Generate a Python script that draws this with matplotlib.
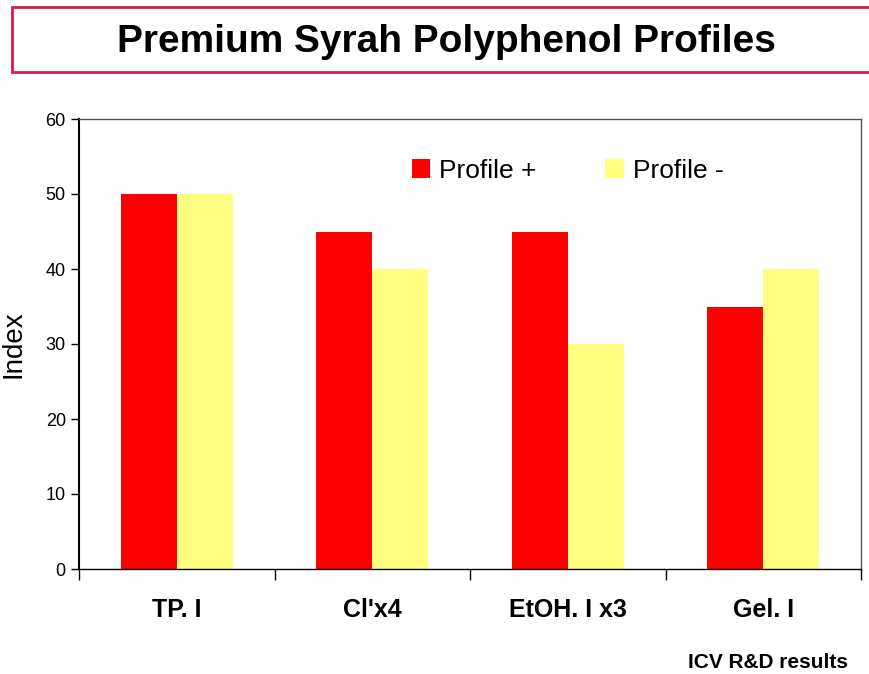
import matplotlib.pyplot as plt
import matplotlib.patches as mpatches
import numpy as np

plt.rcParams['font.family'] = ['Liberation Sans', 'DejaVu Sans']

# Data
categories = ["TP. I", "Cl'x4", "EtOH. I x3", "Gel. I"]
profile_plus = [50, 45, 45, 35]
profile_minus = [50, 40, 30, 40]

fig = plt.figure(figsize=(8.7, 6.74), dpi=100)
ax = fig.add_axes([79 / 870, 1 - 569 / 674, 782 / 870, 450 / 674])

x = np.arange(len(categories))
w = 0.286
ax.bar(x - w / 2, profile_plus, w, color="#ff0000", label="Profile +")
ax.bar(x + w / 2, profile_minus, w, color="#ffff80", label="Profile -")

ax.set_xlim(-0.5, len(categories) - 0.5)
ax.set_ylim(0, 60)
ax.set_yticks(range(0, 61, 10))
ax.tick_params(axis="y", labelsize=13, length=6, width=1, direction="out")

# x ticks at category boundaries, labels at centres
ax.set_xticks(np.arange(-0.5, len(categories), 1))
ax.set_xticklabels([])
ax.set_xticks(x, minor=True)
ax.set_xticklabels(categories, minor=True, fontsize=18, fontweight="bold")
ax.tick_params(axis="x", which="major", length=8, width=1, direction="out")
ax.tick_params(axis="x", which="minor", length=0, pad=21)

for s in ["top", "right"]:
    ax.spines[s].set_color("#555555")
    ax.spines[s].set_linewidth(1)
ax.spines["left"].set_linewidth(1.5)
ax.spines["bottom"].set_linewidth(1)

ax.set_ylabel("Index", fontsize=20)
ax.yaxis.set_label_coords((27 - 79) / 782, 0.5)

ax.legend(loc="center left", bbox_to_anchor=(0.395, 0.885), ncol=2, frameon=False,
          fontsize=19, handlelength=0.7, handleheight=0.7, handletextpad=0.35,
          columnspacing=2.6)

# Title box
box = mpatches.Rectangle((12 / 870, 1 - 72 / 674), 870 / 870, 65 / 674,
                         transform=fig.transFigure, facecolor="white",
                         edgecolor="#d81e3c", linewidth=2, clip_on=False)
fig.patches.append(box)
fig.text(446 / 870, 1 - 42 / 674, "Premium Syrah Polyphenol Profiles",
         ha="center", va="center", fontsize=28, fontweight="bold")

fig.text(848 / 870, 1 - 662 / 674, "ICV R&D results", ha="right", va="center",
         fontsize=15, fontweight="bold")

plt.savefig("out.png", dpi=100)
